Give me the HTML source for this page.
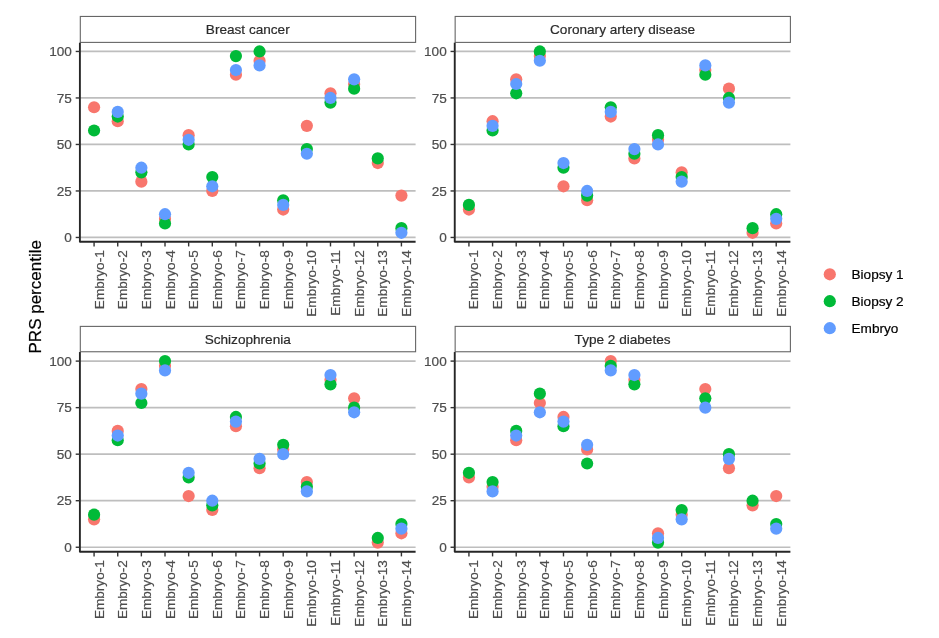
<!DOCTYPE html>
<html><head><meta charset="utf-8"><title>PRS percentile</title>
<style>
html,body{margin:0;padding:0;background:#fff;}
svg{display:block;will-change:transform;}
text{font-family:"Liberation Sans",sans-serif;stroke-width:0.2px;}
.s{font-size:13.6px;}
.at{fill:#4d4d4d;stroke:#4d4d4d;}
.st{fill:#2b2b2b;stroke:#2b2b2b;}
.t{font-size:17px;fill:#000;stroke:#000;}
</style></head><body>
<svg width="939" height="638" viewBox="0 0 939 638">
<rect width="939" height="638" fill="#fff"/>
<g>
<rect x="80.30" y="16.45" width="335.30" height="25.95" fill="#fff" stroke="#666666" stroke-width="1.1"/>
<text class="s st" x="247.75" y="33.92" text-anchor="middle">Breast cancer</text>
<line x1="79.90" x2="415.60" y1="237.46" y2="237.46" stroke="#bebebe" stroke-width="1.7"/>
<line x1="79.90" x2="415.60" y1="190.96" y2="190.96" stroke="#bebebe" stroke-width="1.7"/>
<line x1="79.90" x2="415.60" y1="144.46" y2="144.46" stroke="#bebebe" stroke-width="1.7"/>
<line x1="79.90" x2="415.60" y1="97.95" y2="97.95" stroke="#bebebe" stroke-width="1.7"/>
<line x1="79.90" x2="415.60" y1="51.45" y2="51.45" stroke="#bebebe" stroke-width="1.7"/>
<circle cx="94.08" cy="107.25" r="6.1" fill="#F8766D"/>
<circle cx="117.73" cy="121.20" r="6.1" fill="#F8766D"/>
<circle cx="141.37" cy="181.66" r="6.1" fill="#F8766D"/>
<circle cx="165.01" cy="218.86" r="6.1" fill="#F8766D"/>
<circle cx="188.65" cy="135.15" r="6.1" fill="#F8766D"/>
<circle cx="212.29" cy="190.96" r="6.1" fill="#F8766D"/>
<circle cx="235.93" cy="74.70" r="6.1" fill="#F8766D"/>
<circle cx="259.57" cy="60.75" r="6.1" fill="#F8766D"/>
<circle cx="283.21" cy="209.56" r="6.1" fill="#F8766D"/>
<circle cx="306.85" cy="125.85" r="6.1" fill="#F8766D"/>
<circle cx="330.49" cy="93.30" r="6.1" fill="#F8766D"/>
<circle cx="354.13" cy="84.00" r="6.1" fill="#F8766D"/>
<circle cx="377.77" cy="163.06" r="6.1" fill="#F8766D"/>
<circle cx="401.42" cy="195.61" r="6.1" fill="#F8766D"/>
<circle cx="94.08" cy="130.50" r="6.1" fill="#00BA38"/>
<circle cx="117.73" cy="116.55" r="6.1" fill="#00BA38"/>
<circle cx="141.37" cy="172.36" r="6.1" fill="#00BA38"/>
<circle cx="165.01" cy="223.51" r="6.1" fill="#00BA38"/>
<circle cx="188.65" cy="144.46" r="6.1" fill="#00BA38"/>
<circle cx="212.29" cy="177.01" r="6.1" fill="#00BA38"/>
<circle cx="235.93" cy="56.10" r="6.1" fill="#00BA38"/>
<circle cx="259.57" cy="51.45" r="6.1" fill="#00BA38"/>
<circle cx="283.21" cy="200.26" r="6.1" fill="#00BA38"/>
<circle cx="306.85" cy="149.11" r="6.1" fill="#00BA38"/>
<circle cx="330.49" cy="102.60" r="6.1" fill="#00BA38"/>
<circle cx="354.13" cy="88.65" r="6.1" fill="#00BA38"/>
<circle cx="377.77" cy="158.41" r="6.1" fill="#00BA38"/>
<circle cx="401.42" cy="228.16" r="6.1" fill="#00BA38"/>
<circle cx="117.73" cy="111.90" r="6.1" fill="#619CFF"/>
<circle cx="141.37" cy="167.71" r="6.1" fill="#619CFF"/>
<circle cx="165.01" cy="214.21" r="6.1" fill="#619CFF"/>
<circle cx="188.65" cy="139.80" r="6.1" fill="#619CFF"/>
<circle cx="212.29" cy="186.31" r="6.1" fill="#619CFF"/>
<circle cx="235.93" cy="70.05" r="6.1" fill="#619CFF"/>
<circle cx="259.57" cy="65.40" r="6.1" fill="#619CFF"/>
<circle cx="283.21" cy="204.91" r="6.1" fill="#619CFF"/>
<circle cx="306.85" cy="153.76" r="6.1" fill="#619CFF"/>
<circle cx="330.49" cy="97.95" r="6.1" fill="#619CFF"/>
<circle cx="354.13" cy="79.35" r="6.1" fill="#619CFF"/>
<circle cx="401.42" cy="232.81" r="6.1" fill="#619CFF"/>
<line x1="79.90" x2="79.90" y1="42.70" y2="242.20" stroke="#262626" stroke-width="1.9"/>
<line x1="79.45" x2="415.60" y1="241.75" y2="241.75" stroke="#262626" stroke-width="1.9"/>
<line x1="75.70" x2="79.90" y1="237.46" y2="237.46" stroke="#333" stroke-width="1.4"/>
<text class="s at" x="71.90" y="242.06" text-anchor="end">0</text>
<line x1="75.70" x2="79.90" y1="190.96" y2="190.96" stroke="#333" stroke-width="1.4"/>
<text class="s at" x="71.90" y="195.56" text-anchor="end">25</text>
<line x1="75.70" x2="79.90" y1="144.46" y2="144.46" stroke="#333" stroke-width="1.4"/>
<text class="s at" x="71.90" y="149.06" text-anchor="end">50</text>
<line x1="75.70" x2="79.90" y1="97.95" y2="97.95" stroke="#333" stroke-width="1.4"/>
<text class="s at" x="71.90" y="102.55" text-anchor="end">75</text>
<line x1="75.70" x2="79.90" y1="51.45" y2="51.45" stroke="#333" stroke-width="1.4"/>
<text class="s at" x="71.90" y="56.05" text-anchor="end">100</text>
<line x1="94.08" x2="94.08" y1="241.75" y2="246.45" stroke="#333" stroke-width="1.4"/>
<text class="s at" transform="translate(103.58 250.25) rotate(-90)" text-anchor="end">Embryo-1</text>
<line x1="117.73" x2="117.73" y1="241.75" y2="246.45" stroke="#333" stroke-width="1.4"/>
<text class="s at" transform="translate(127.23 250.25) rotate(-90)" text-anchor="end">Embryo-2</text>
<line x1="141.37" x2="141.37" y1="241.75" y2="246.45" stroke="#333" stroke-width="1.4"/>
<text class="s at" transform="translate(150.87 250.25) rotate(-90)" text-anchor="end">Embryo-3</text>
<line x1="165.01" x2="165.01" y1="241.75" y2="246.45" stroke="#333" stroke-width="1.4"/>
<text class="s at" transform="translate(174.51 250.25) rotate(-90)" text-anchor="end">Embryo-4</text>
<line x1="188.65" x2="188.65" y1="241.75" y2="246.45" stroke="#333" stroke-width="1.4"/>
<text class="s at" transform="translate(198.15 250.25) rotate(-90)" text-anchor="end">Embryo-5</text>
<line x1="212.29" x2="212.29" y1="241.75" y2="246.45" stroke="#333" stroke-width="1.4"/>
<text class="s at" transform="translate(221.79 250.25) rotate(-90)" text-anchor="end">Embryo-6</text>
<line x1="235.93" x2="235.93" y1="241.75" y2="246.45" stroke="#333" stroke-width="1.4"/>
<text class="s at" transform="translate(245.43 250.25) rotate(-90)" text-anchor="end">Embryo-7</text>
<line x1="259.57" x2="259.57" y1="241.75" y2="246.45" stroke="#333" stroke-width="1.4"/>
<text class="s at" transform="translate(269.07 250.25) rotate(-90)" text-anchor="end">Embryo-8</text>
<line x1="283.21" x2="283.21" y1="241.75" y2="246.45" stroke="#333" stroke-width="1.4"/>
<text class="s at" transform="translate(292.71 250.25) rotate(-90)" text-anchor="end">Embryo-9</text>
<line x1="306.85" x2="306.85" y1="241.75" y2="246.45" stroke="#333" stroke-width="1.4"/>
<text class="s at" transform="translate(316.35 250.25) rotate(-90)" text-anchor="end">Embryo-10</text>
<line x1="330.49" x2="330.49" y1="241.75" y2="246.45" stroke="#333" stroke-width="1.4"/>
<text class="s at" transform="translate(339.99 250.25) rotate(-90)" text-anchor="end">Embryo-11</text>
<line x1="354.13" x2="354.13" y1="241.75" y2="246.45" stroke="#333" stroke-width="1.4"/>
<text class="s at" transform="translate(363.63 250.25) rotate(-90)" text-anchor="end">Embryo-12</text>
<line x1="377.77" x2="377.77" y1="241.75" y2="246.45" stroke="#333" stroke-width="1.4"/>
<text class="s at" transform="translate(387.27 250.25) rotate(-90)" text-anchor="end">Embryo-13</text>
<line x1="401.42" x2="401.42" y1="241.75" y2="246.45" stroke="#333" stroke-width="1.4"/>
<text class="s at" transform="translate(410.92 250.25) rotate(-90)" text-anchor="end">Embryo-14</text>
</g>
<g>
<rect x="455.15" y="16.45" width="335.25" height="25.95" fill="#fff" stroke="#666666" stroke-width="1.1"/>
<text class="s st" x="622.58" y="33.92" text-anchor="middle">Coronary artery disease</text>
<line x1="454.75" x2="790.40" y1="237.46" y2="237.46" stroke="#bebebe" stroke-width="1.7"/>
<line x1="454.75" x2="790.40" y1="190.96" y2="190.96" stroke="#bebebe" stroke-width="1.7"/>
<line x1="454.75" x2="790.40" y1="144.46" y2="144.46" stroke="#bebebe" stroke-width="1.7"/>
<line x1="454.75" x2="790.40" y1="97.95" y2="97.95" stroke="#bebebe" stroke-width="1.7"/>
<line x1="454.75" x2="790.40" y1="51.45" y2="51.45" stroke="#bebebe" stroke-width="1.7"/>
<circle cx="468.93" cy="209.56" r="6.1" fill="#F8766D"/>
<circle cx="492.57" cy="121.20" r="6.1" fill="#F8766D"/>
<circle cx="516.21" cy="79.35" r="6.1" fill="#F8766D"/>
<circle cx="539.84" cy="56.10" r="6.1" fill="#F8766D"/>
<circle cx="563.48" cy="186.31" r="6.1" fill="#F8766D"/>
<circle cx="587.12" cy="200.26" r="6.1" fill="#F8766D"/>
<circle cx="610.76" cy="116.55" r="6.1" fill="#F8766D"/>
<circle cx="634.39" cy="158.41" r="6.1" fill="#F8766D"/>
<circle cx="658.03" cy="139.80" r="6.1" fill="#F8766D"/>
<circle cx="681.67" cy="172.36" r="6.1" fill="#F8766D"/>
<circle cx="705.31" cy="70.05" r="6.1" fill="#F8766D"/>
<circle cx="728.94" cy="88.65" r="6.1" fill="#F8766D"/>
<circle cx="752.58" cy="232.81" r="6.1" fill="#F8766D"/>
<circle cx="776.22" cy="223.51" r="6.1" fill="#F8766D"/>
<circle cx="468.93" cy="204.91" r="6.1" fill="#00BA38"/>
<circle cx="492.57" cy="130.50" r="6.1" fill="#00BA38"/>
<circle cx="516.21" cy="93.30" r="6.1" fill="#00BA38"/>
<circle cx="539.84" cy="51.45" r="6.1" fill="#00BA38"/>
<circle cx="563.48" cy="167.71" r="6.1" fill="#00BA38"/>
<circle cx="587.12" cy="195.61" r="6.1" fill="#00BA38"/>
<circle cx="610.76" cy="107.25" r="6.1" fill="#00BA38"/>
<circle cx="634.39" cy="153.76" r="6.1" fill="#00BA38"/>
<circle cx="658.03" cy="135.15" r="6.1" fill="#00BA38"/>
<circle cx="681.67" cy="177.01" r="6.1" fill="#00BA38"/>
<circle cx="705.31" cy="74.70" r="6.1" fill="#00BA38"/>
<circle cx="728.94" cy="97.95" r="6.1" fill="#00BA38"/>
<circle cx="752.58" cy="228.16" r="6.1" fill="#00BA38"/>
<circle cx="776.22" cy="214.21" r="6.1" fill="#00BA38"/>
<circle cx="492.57" cy="125.85" r="6.1" fill="#619CFF"/>
<circle cx="516.21" cy="84.00" r="6.1" fill="#619CFF"/>
<circle cx="539.84" cy="60.75" r="6.1" fill="#619CFF"/>
<circle cx="563.48" cy="163.06" r="6.1" fill="#619CFF"/>
<circle cx="587.12" cy="190.96" r="6.1" fill="#619CFF"/>
<circle cx="610.76" cy="111.90" r="6.1" fill="#619CFF"/>
<circle cx="634.39" cy="149.11" r="6.1" fill="#619CFF"/>
<circle cx="658.03" cy="144.46" r="6.1" fill="#619CFF"/>
<circle cx="681.67" cy="181.66" r="6.1" fill="#619CFF"/>
<circle cx="705.31" cy="65.40" r="6.1" fill="#619CFF"/>
<circle cx="728.94" cy="102.60" r="6.1" fill="#619CFF"/>
<circle cx="776.22" cy="218.86" r="6.1" fill="#619CFF"/>
<line x1="454.75" x2="454.75" y1="42.70" y2="242.20" stroke="#262626" stroke-width="1.9"/>
<line x1="454.30" x2="790.40" y1="241.75" y2="241.75" stroke="#262626" stroke-width="1.9"/>
<line x1="450.55" x2="454.75" y1="237.46" y2="237.46" stroke="#333" stroke-width="1.4"/>
<text class="s at" x="446.75" y="242.06" text-anchor="end">0</text>
<line x1="450.55" x2="454.75" y1="190.96" y2="190.96" stroke="#333" stroke-width="1.4"/>
<text class="s at" x="446.75" y="195.56" text-anchor="end">25</text>
<line x1="450.55" x2="454.75" y1="144.46" y2="144.46" stroke="#333" stroke-width="1.4"/>
<text class="s at" x="446.75" y="149.06" text-anchor="end">50</text>
<line x1="450.55" x2="454.75" y1="97.95" y2="97.95" stroke="#333" stroke-width="1.4"/>
<text class="s at" x="446.75" y="102.55" text-anchor="end">75</text>
<line x1="450.55" x2="454.75" y1="51.45" y2="51.45" stroke="#333" stroke-width="1.4"/>
<text class="s at" x="446.75" y="56.05" text-anchor="end">100</text>
<line x1="468.93" x2="468.93" y1="241.75" y2="246.45" stroke="#333" stroke-width="1.4"/>
<text class="s at" transform="translate(478.43 250.25) rotate(-90)" text-anchor="end">Embryo-1</text>
<line x1="492.57" x2="492.57" y1="241.75" y2="246.45" stroke="#333" stroke-width="1.4"/>
<text class="s at" transform="translate(502.07 250.25) rotate(-90)" text-anchor="end">Embryo-2</text>
<line x1="516.21" x2="516.21" y1="241.75" y2="246.45" stroke="#333" stroke-width="1.4"/>
<text class="s at" transform="translate(525.71 250.25) rotate(-90)" text-anchor="end">Embryo-3</text>
<line x1="539.84" x2="539.84" y1="241.75" y2="246.45" stroke="#333" stroke-width="1.4"/>
<text class="s at" transform="translate(549.34 250.25) rotate(-90)" text-anchor="end">Embryo-4</text>
<line x1="563.48" x2="563.48" y1="241.75" y2="246.45" stroke="#333" stroke-width="1.4"/>
<text class="s at" transform="translate(572.98 250.25) rotate(-90)" text-anchor="end">Embryo-5</text>
<line x1="587.12" x2="587.12" y1="241.75" y2="246.45" stroke="#333" stroke-width="1.4"/>
<text class="s at" transform="translate(596.62 250.25) rotate(-90)" text-anchor="end">Embryo-6</text>
<line x1="610.76" x2="610.76" y1="241.75" y2="246.45" stroke="#333" stroke-width="1.4"/>
<text class="s at" transform="translate(620.26 250.25) rotate(-90)" text-anchor="end">Embryo-7</text>
<line x1="634.39" x2="634.39" y1="241.75" y2="246.45" stroke="#333" stroke-width="1.4"/>
<text class="s at" transform="translate(643.89 250.25) rotate(-90)" text-anchor="end">Embryo-8</text>
<line x1="658.03" x2="658.03" y1="241.75" y2="246.45" stroke="#333" stroke-width="1.4"/>
<text class="s at" transform="translate(667.53 250.25) rotate(-90)" text-anchor="end">Embryo-9</text>
<line x1="681.67" x2="681.67" y1="241.75" y2="246.45" stroke="#333" stroke-width="1.4"/>
<text class="s at" transform="translate(691.17 250.25) rotate(-90)" text-anchor="end">Embryo-10</text>
<line x1="705.31" x2="705.31" y1="241.75" y2="246.45" stroke="#333" stroke-width="1.4"/>
<text class="s at" transform="translate(714.81 250.25) rotate(-90)" text-anchor="end">Embryo-11</text>
<line x1="728.94" x2="728.94" y1="241.75" y2="246.45" stroke="#333" stroke-width="1.4"/>
<text class="s at" transform="translate(738.44 250.25) rotate(-90)" text-anchor="end">Embryo-12</text>
<line x1="752.58" x2="752.58" y1="241.75" y2="246.45" stroke="#333" stroke-width="1.4"/>
<text class="s at" transform="translate(762.08 250.25) rotate(-90)" text-anchor="end">Embryo-13</text>
<line x1="776.22" x2="776.22" y1="241.75" y2="246.45" stroke="#333" stroke-width="1.4"/>
<text class="s at" transform="translate(785.72 250.25) rotate(-90)" text-anchor="end">Embryo-14</text>
</g>
<g>
<rect x="80.30" y="326.40" width="335.30" height="25.35" fill="#fff" stroke="#666666" stroke-width="1.1"/>
<text class="s st" x="247.75" y="343.57" text-anchor="middle">Schizophrenia</text>
<line x1="79.90" x2="415.60" y1="547.25" y2="547.25" stroke="#bebebe" stroke-width="1.7"/>
<line x1="79.90" x2="415.60" y1="500.71" y2="500.71" stroke="#bebebe" stroke-width="1.7"/>
<line x1="79.90" x2="415.60" y1="454.18" y2="454.18" stroke="#bebebe" stroke-width="1.7"/>
<line x1="79.90" x2="415.60" y1="407.64" y2="407.64" stroke="#bebebe" stroke-width="1.7"/>
<line x1="79.90" x2="415.60" y1="361.10" y2="361.10" stroke="#bebebe" stroke-width="1.7"/>
<circle cx="94.08" cy="519.33" r="6.1" fill="#F8766D"/>
<circle cx="117.73" cy="430.91" r="6.1" fill="#F8766D"/>
<circle cx="141.37" cy="389.02" r="6.1" fill="#F8766D"/>
<circle cx="165.01" cy="365.75" r="6.1" fill="#F8766D"/>
<circle cx="188.65" cy="496.06" r="6.1" fill="#F8766D"/>
<circle cx="212.29" cy="510.02" r="6.1" fill="#F8766D"/>
<circle cx="235.93" cy="426.25" r="6.1" fill="#F8766D"/>
<circle cx="259.57" cy="468.14" r="6.1" fill="#F8766D"/>
<circle cx="283.21" cy="449.52" r="6.1" fill="#F8766D"/>
<circle cx="306.85" cy="482.10" r="6.1" fill="#F8766D"/>
<circle cx="330.49" cy="379.72" r="6.1" fill="#F8766D"/>
<circle cx="354.13" cy="398.33" r="6.1" fill="#F8766D"/>
<circle cx="377.77" cy="542.60" r="6.1" fill="#F8766D"/>
<circle cx="401.42" cy="533.29" r="6.1" fill="#F8766D"/>
<circle cx="94.08" cy="514.67" r="6.1" fill="#00BA38"/>
<circle cx="117.73" cy="440.21" r="6.1" fill="#00BA38"/>
<circle cx="141.37" cy="402.98" r="6.1" fill="#00BA38"/>
<circle cx="165.01" cy="361.10" r="6.1" fill="#00BA38"/>
<circle cx="188.65" cy="477.44" r="6.1" fill="#00BA38"/>
<circle cx="212.29" cy="505.37" r="6.1" fill="#00BA38"/>
<circle cx="235.93" cy="416.95" r="6.1" fill="#00BA38"/>
<circle cx="259.57" cy="463.48" r="6.1" fill="#00BA38"/>
<circle cx="283.21" cy="444.87" r="6.1" fill="#00BA38"/>
<circle cx="306.85" cy="486.75" r="6.1" fill="#00BA38"/>
<circle cx="330.49" cy="384.37" r="6.1" fill="#00BA38"/>
<circle cx="354.13" cy="407.64" r="6.1" fill="#00BA38"/>
<circle cx="377.77" cy="537.94" r="6.1" fill="#00BA38"/>
<circle cx="401.42" cy="523.98" r="6.1" fill="#00BA38"/>
<circle cx="117.73" cy="435.56" r="6.1" fill="#619CFF"/>
<circle cx="141.37" cy="393.68" r="6.1" fill="#619CFF"/>
<circle cx="165.01" cy="370.41" r="6.1" fill="#619CFF"/>
<circle cx="188.65" cy="472.79" r="6.1" fill="#619CFF"/>
<circle cx="212.29" cy="500.71" r="6.1" fill="#619CFF"/>
<circle cx="235.93" cy="421.60" r="6.1" fill="#619CFF"/>
<circle cx="259.57" cy="458.83" r="6.1" fill="#619CFF"/>
<circle cx="283.21" cy="454.18" r="6.1" fill="#619CFF"/>
<circle cx="306.85" cy="491.41" r="6.1" fill="#619CFF"/>
<circle cx="330.49" cy="375.06" r="6.1" fill="#619CFF"/>
<circle cx="354.13" cy="412.29" r="6.1" fill="#619CFF"/>
<circle cx="401.42" cy="528.63" r="6.1" fill="#619CFF"/>
<line x1="79.90" x2="79.90" y1="352.05" y2="552.15" stroke="#262626" stroke-width="1.9"/>
<line x1="79.45" x2="415.60" y1="551.70" y2="551.70" stroke="#262626" stroke-width="1.9"/>
<line x1="75.70" x2="79.90" y1="547.25" y2="547.25" stroke="#333" stroke-width="1.4"/>
<text class="s at" x="71.90" y="551.85" text-anchor="end">0</text>
<line x1="75.70" x2="79.90" y1="500.71" y2="500.71" stroke="#333" stroke-width="1.4"/>
<text class="s at" x="71.90" y="505.31" text-anchor="end">25</text>
<line x1="75.70" x2="79.90" y1="454.18" y2="454.18" stroke="#333" stroke-width="1.4"/>
<text class="s at" x="71.90" y="458.78" text-anchor="end">50</text>
<line x1="75.70" x2="79.90" y1="407.64" y2="407.64" stroke="#333" stroke-width="1.4"/>
<text class="s at" x="71.90" y="412.24" text-anchor="end">75</text>
<line x1="75.70" x2="79.90" y1="361.10" y2="361.10" stroke="#333" stroke-width="1.4"/>
<text class="s at" x="71.90" y="365.70" text-anchor="end">100</text>
<line x1="94.08" x2="94.08" y1="551.70" y2="556.40" stroke="#333" stroke-width="1.4"/>
<text class="s at" transform="translate(103.58 560.20) rotate(-90)" text-anchor="end">Embryo-1</text>
<line x1="117.73" x2="117.73" y1="551.70" y2="556.40" stroke="#333" stroke-width="1.4"/>
<text class="s at" transform="translate(127.23 560.20) rotate(-90)" text-anchor="end">Embryo-2</text>
<line x1="141.37" x2="141.37" y1="551.70" y2="556.40" stroke="#333" stroke-width="1.4"/>
<text class="s at" transform="translate(150.87 560.20) rotate(-90)" text-anchor="end">Embryo-3</text>
<line x1="165.01" x2="165.01" y1="551.70" y2="556.40" stroke="#333" stroke-width="1.4"/>
<text class="s at" transform="translate(174.51 560.20) rotate(-90)" text-anchor="end">Embryo-4</text>
<line x1="188.65" x2="188.65" y1="551.70" y2="556.40" stroke="#333" stroke-width="1.4"/>
<text class="s at" transform="translate(198.15 560.20) rotate(-90)" text-anchor="end">Embryo-5</text>
<line x1="212.29" x2="212.29" y1="551.70" y2="556.40" stroke="#333" stroke-width="1.4"/>
<text class="s at" transform="translate(221.79 560.20) rotate(-90)" text-anchor="end">Embryo-6</text>
<line x1="235.93" x2="235.93" y1="551.70" y2="556.40" stroke="#333" stroke-width="1.4"/>
<text class="s at" transform="translate(245.43 560.20) rotate(-90)" text-anchor="end">Embryo-7</text>
<line x1="259.57" x2="259.57" y1="551.70" y2="556.40" stroke="#333" stroke-width="1.4"/>
<text class="s at" transform="translate(269.07 560.20) rotate(-90)" text-anchor="end">Embryo-8</text>
<line x1="283.21" x2="283.21" y1="551.70" y2="556.40" stroke="#333" stroke-width="1.4"/>
<text class="s at" transform="translate(292.71 560.20) rotate(-90)" text-anchor="end">Embryo-9</text>
<line x1="306.85" x2="306.85" y1="551.70" y2="556.40" stroke="#333" stroke-width="1.4"/>
<text class="s at" transform="translate(316.35 560.20) rotate(-90)" text-anchor="end">Embryo-10</text>
<line x1="330.49" x2="330.49" y1="551.70" y2="556.40" stroke="#333" stroke-width="1.4"/>
<text class="s at" transform="translate(339.99 560.20) rotate(-90)" text-anchor="end">Embryo-11</text>
<line x1="354.13" x2="354.13" y1="551.70" y2="556.40" stroke="#333" stroke-width="1.4"/>
<text class="s at" transform="translate(363.63 560.20) rotate(-90)" text-anchor="end">Embryo-12</text>
<line x1="377.77" x2="377.77" y1="551.70" y2="556.40" stroke="#333" stroke-width="1.4"/>
<text class="s at" transform="translate(387.27 560.20) rotate(-90)" text-anchor="end">Embryo-13</text>
<line x1="401.42" x2="401.42" y1="551.70" y2="556.40" stroke="#333" stroke-width="1.4"/>
<text class="s at" transform="translate(410.92 560.20) rotate(-90)" text-anchor="end">Embryo-14</text>
</g>
<g>
<rect x="455.15" y="326.40" width="335.25" height="25.35" fill="#fff" stroke="#666666" stroke-width="1.1"/>
<text class="s st" x="622.58" y="343.57" text-anchor="middle">Type 2 diabetes</text>
<line x1="454.75" x2="790.40" y1="547.25" y2="547.25" stroke="#bebebe" stroke-width="1.7"/>
<line x1="454.75" x2="790.40" y1="500.71" y2="500.71" stroke="#bebebe" stroke-width="1.7"/>
<line x1="454.75" x2="790.40" y1="454.18" y2="454.18" stroke="#bebebe" stroke-width="1.7"/>
<line x1="454.75" x2="790.40" y1="407.64" y2="407.64" stroke="#bebebe" stroke-width="1.7"/>
<line x1="454.75" x2="790.40" y1="361.10" y2="361.10" stroke="#bebebe" stroke-width="1.7"/>
<circle cx="468.93" cy="477.44" r="6.1" fill="#F8766D"/>
<circle cx="492.57" cy="486.75" r="6.1" fill="#F8766D"/>
<circle cx="516.21" cy="440.21" r="6.1" fill="#F8766D"/>
<circle cx="539.84" cy="402.98" r="6.1" fill="#F8766D"/>
<circle cx="563.48" cy="416.95" r="6.1" fill="#F8766D"/>
<circle cx="587.12" cy="449.52" r="6.1" fill="#F8766D"/>
<circle cx="610.76" cy="361.10" r="6.1" fill="#F8766D"/>
<circle cx="634.39" cy="379.72" r="6.1" fill="#F8766D"/>
<circle cx="658.03" cy="533.29" r="6.1" fill="#F8766D"/>
<circle cx="681.67" cy="514.67" r="6.1" fill="#F8766D"/>
<circle cx="705.31" cy="389.02" r="6.1" fill="#F8766D"/>
<circle cx="728.94" cy="468.14" r="6.1" fill="#F8766D"/>
<circle cx="752.58" cy="505.37" r="6.1" fill="#F8766D"/>
<circle cx="776.22" cy="496.06" r="6.1" fill="#F8766D"/>
<circle cx="468.93" cy="472.79" r="6.1" fill="#00BA38"/>
<circle cx="492.57" cy="482.10" r="6.1" fill="#00BA38"/>
<circle cx="516.21" cy="430.91" r="6.1" fill="#00BA38"/>
<circle cx="539.84" cy="393.68" r="6.1" fill="#00BA38"/>
<circle cx="563.48" cy="426.25" r="6.1" fill="#00BA38"/>
<circle cx="587.12" cy="463.48" r="6.1" fill="#00BA38"/>
<circle cx="610.76" cy="365.75" r="6.1" fill="#00BA38"/>
<circle cx="634.39" cy="384.37" r="6.1" fill="#00BA38"/>
<circle cx="658.03" cy="542.60" r="6.1" fill="#00BA38"/>
<circle cx="681.67" cy="510.02" r="6.1" fill="#00BA38"/>
<circle cx="705.31" cy="398.33" r="6.1" fill="#00BA38"/>
<circle cx="728.94" cy="454.18" r="6.1" fill="#00BA38"/>
<circle cx="752.58" cy="500.71" r="6.1" fill="#00BA38"/>
<circle cx="776.22" cy="523.98" r="6.1" fill="#00BA38"/>
<circle cx="492.57" cy="491.41" r="6.1" fill="#619CFF"/>
<circle cx="516.21" cy="435.56" r="6.1" fill="#619CFF"/>
<circle cx="539.84" cy="412.29" r="6.1" fill="#619CFF"/>
<circle cx="563.48" cy="421.60" r="6.1" fill="#619CFF"/>
<circle cx="587.12" cy="444.87" r="6.1" fill="#619CFF"/>
<circle cx="610.76" cy="370.41" r="6.1" fill="#619CFF"/>
<circle cx="634.39" cy="375.06" r="6.1" fill="#619CFF"/>
<circle cx="658.03" cy="537.94" r="6.1" fill="#619CFF"/>
<circle cx="681.67" cy="519.33" r="6.1" fill="#619CFF"/>
<circle cx="705.31" cy="407.64" r="6.1" fill="#619CFF"/>
<circle cx="728.94" cy="458.83" r="6.1" fill="#619CFF"/>
<circle cx="776.22" cy="528.63" r="6.1" fill="#619CFF"/>
<line x1="454.75" x2="454.75" y1="352.05" y2="552.15" stroke="#262626" stroke-width="1.9"/>
<line x1="454.30" x2="790.40" y1="551.70" y2="551.70" stroke="#262626" stroke-width="1.9"/>
<line x1="450.55" x2="454.75" y1="547.25" y2="547.25" stroke="#333" stroke-width="1.4"/>
<text class="s at" x="446.75" y="551.85" text-anchor="end">0</text>
<line x1="450.55" x2="454.75" y1="500.71" y2="500.71" stroke="#333" stroke-width="1.4"/>
<text class="s at" x="446.75" y="505.31" text-anchor="end">25</text>
<line x1="450.55" x2="454.75" y1="454.18" y2="454.18" stroke="#333" stroke-width="1.4"/>
<text class="s at" x="446.75" y="458.78" text-anchor="end">50</text>
<line x1="450.55" x2="454.75" y1="407.64" y2="407.64" stroke="#333" stroke-width="1.4"/>
<text class="s at" x="446.75" y="412.24" text-anchor="end">75</text>
<line x1="450.55" x2="454.75" y1="361.10" y2="361.10" stroke="#333" stroke-width="1.4"/>
<text class="s at" x="446.75" y="365.70" text-anchor="end">100</text>
<line x1="468.93" x2="468.93" y1="551.70" y2="556.40" stroke="#333" stroke-width="1.4"/>
<text class="s at" transform="translate(478.43 560.20) rotate(-90)" text-anchor="end">Embryo-1</text>
<line x1="492.57" x2="492.57" y1="551.70" y2="556.40" stroke="#333" stroke-width="1.4"/>
<text class="s at" transform="translate(502.07 560.20) rotate(-90)" text-anchor="end">Embryo-2</text>
<line x1="516.21" x2="516.21" y1="551.70" y2="556.40" stroke="#333" stroke-width="1.4"/>
<text class="s at" transform="translate(525.71 560.20) rotate(-90)" text-anchor="end">Embryo-3</text>
<line x1="539.84" x2="539.84" y1="551.70" y2="556.40" stroke="#333" stroke-width="1.4"/>
<text class="s at" transform="translate(549.34 560.20) rotate(-90)" text-anchor="end">Embryo-4</text>
<line x1="563.48" x2="563.48" y1="551.70" y2="556.40" stroke="#333" stroke-width="1.4"/>
<text class="s at" transform="translate(572.98 560.20) rotate(-90)" text-anchor="end">Embryo-5</text>
<line x1="587.12" x2="587.12" y1="551.70" y2="556.40" stroke="#333" stroke-width="1.4"/>
<text class="s at" transform="translate(596.62 560.20) rotate(-90)" text-anchor="end">Embryo-6</text>
<line x1="610.76" x2="610.76" y1="551.70" y2="556.40" stroke="#333" stroke-width="1.4"/>
<text class="s at" transform="translate(620.26 560.20) rotate(-90)" text-anchor="end">Embryo-7</text>
<line x1="634.39" x2="634.39" y1="551.70" y2="556.40" stroke="#333" stroke-width="1.4"/>
<text class="s at" transform="translate(643.89 560.20) rotate(-90)" text-anchor="end">Embryo-8</text>
<line x1="658.03" x2="658.03" y1="551.70" y2="556.40" stroke="#333" stroke-width="1.4"/>
<text class="s at" transform="translate(667.53 560.20) rotate(-90)" text-anchor="end">Embryo-9</text>
<line x1="681.67" x2="681.67" y1="551.70" y2="556.40" stroke="#333" stroke-width="1.4"/>
<text class="s at" transform="translate(691.17 560.20) rotate(-90)" text-anchor="end">Embryo-10</text>
<line x1="705.31" x2="705.31" y1="551.70" y2="556.40" stroke="#333" stroke-width="1.4"/>
<text class="s at" transform="translate(714.81 560.20) rotate(-90)" text-anchor="end">Embryo-11</text>
<line x1="728.94" x2="728.94" y1="551.70" y2="556.40" stroke="#333" stroke-width="1.4"/>
<text class="s at" transform="translate(738.44 560.20) rotate(-90)" text-anchor="end">Embryo-12</text>
<line x1="752.58" x2="752.58" y1="551.70" y2="556.40" stroke="#333" stroke-width="1.4"/>
<text class="s at" transform="translate(762.08 560.20) rotate(-90)" text-anchor="end">Embryo-13</text>
<line x1="776.22" x2="776.22" y1="551.70" y2="556.40" stroke="#333" stroke-width="1.4"/>
<text class="s at" transform="translate(785.72 560.20) rotate(-90)" text-anchor="end">Embryo-14</text>
</g>
<text class="t" transform="translate(40.8 296.8) rotate(-90)" text-anchor="middle">PRS percentile</text>
<circle cx="829.8" cy="274.30" r="6.1" fill="#F8766D"/>
<text class="s" x="851.5" y="279.40" fill="#000" stroke="#000">Biopsy 1</text>
<circle cx="829.8" cy="301.20" r="6.1" fill="#00BA38"/>
<text class="s" x="851.5" y="306.10" fill="#000" stroke="#000">Biopsy 2</text>
<circle cx="829.8" cy="328.20" r="6.1" fill="#619CFF"/>
<text class="s" x="851.5" y="332.90" fill="#000" stroke="#000">Embryo</text>
</svg>
</body></html>
